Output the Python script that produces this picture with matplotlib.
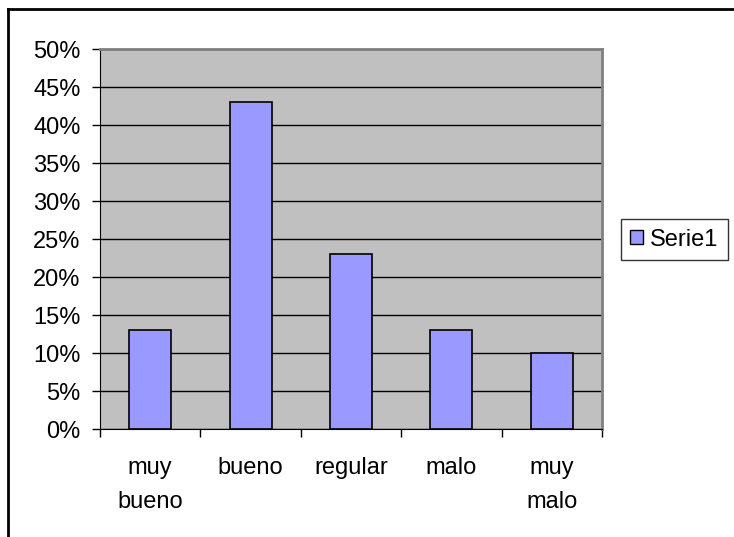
import matplotlib.pyplot as plt
from matplotlib.patches import Patch
from matplotlib.lines import Line2D
from matplotlib.ticker import MultipleLocator, FuncFormatter

# Datos de la encuesta
categorias = ['muy\nbueno', 'bueno', 'regular', 'malo', 'muy\nmalo']
porcentajes = [13, 43, 23, 13, 10]
serie = 'Serie1'

plt.rcParams['font.family'] = ['Liberation Sans', 'DejaVu Sans']

fig = plt.figure(figsize=(7.34, 5.37), dpi=100)
ax = fig.add_axes([100 / 734, 1 - 429 / 537, 502 / 734, 380 / 537])
ax.set_facecolor('#c0c0c0')

x = range(len(categorias))
ax.bar(x, porcentajes, width=0.42, color='#9999ff', edgecolor='black',
       linewidth=1.2, zorder=3)

ax.set_xlim(-0.5, len(categorias) - 0.5)
ax.set_ylim(0, 50)
ax.yaxis.set_major_locator(MultipleLocator(5))
ax.yaxis.set_major_formatter(FuncFormatter(lambda v, p: f'{v:.0f}%'))
ax.grid(axis='y', color='black', linewidth=1, zorder=1)
ax.set_axisbelow(True)

# ticks del eje x entre categorias, etiquetas centradas
ax.set_xticks([i - 0.5 for i in range(len(categorias) + 1)])
ax.set_xticklabels([])
ax.set_xticks(list(x), minor=True)
ax.set_xticklabels(categorias, minor=True, fontsize=17, linespacing=1.7)
ax.tick_params(axis='x', which='major', length=6, width=1, color='black', direction='out')
ax.tick_params(axis='x', which='minor', length=0, pad=20)
for lbl in ax.get_xticklabels(minor=True):
    lbl.set_verticalalignment('top')
ax.tick_params(axis='y', length=6, width=1, color='black', labelsize=17, pad=8)

for side in ['top', 'right']:
    ax.spines[side].set_color('#808080')
    ax.spines[side].set_linewidth(2)
ax.spines['left'].set_color('black')
ax.spines['bottom'].set_color('black')

# marco del grafico (solo borde superior e izquierdo visibles)
fig.add_artist(Line2D([8 / 734, 8 / 734], [0, 1 - 8.5 / 537], transform=fig.transFigure,
                      color='black', linewidth=2))
fig.add_artist(Line2D([8 / 734, 1], [1 - 8.5 / 537, 1 - 8.5 / 537], transform=fig.transFigure,
                      color='black', linewidth=2))

leg = fig.legend(handles=[Patch(facecolor='#9999ff', edgecolor='black', label=serie)],
                 loc='center', bbox_to_anchor=(674.5 / 734, 1 - 239.5 / 537),
                 fontsize=17, frameon=True, fancybox=False, handlelength=0.55,
                 handleheight=0.55, handletextpad=0.3, borderpad=0.4)
leg.get_frame().set_edgecolor('black')
leg.get_frame().set_linewidth(1)

fig.savefig('out.png', dpi=100)
